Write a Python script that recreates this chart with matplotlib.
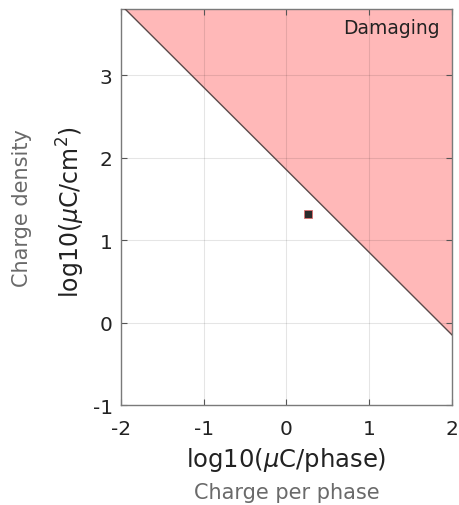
import numpy as np
import matplotlib.pyplot as plt

# Shannon limit: log10(D) = k - log10(Q)
k_shannon = 1.85
x_range = [-2, 2]
y_range = [-1, 3.8]
x_ticks = [-2, -1, 0, 1, 2]
y_ticks = [-1, 0, 1, 2, 3]

# stimulation point
point_q = [0.26]
point_d = [1.31]

fig = plt.figure(figsize=(4.59, 5.06), dpi=100)
ax = fig.add_axes([0.2636, 0.1976, 0.7211, 0.7826])

xs = np.linspace(x_range[0], x_range[1], 200)
ys = k_shannon - xs
ax.fill_between(xs, ys, 10, color="#ff9a9a", alpha=0.7, lw=0, zorder=0.4)
ax.plot(xs, ys, color="#5a4a4a", lw=1.0, zorder=3)

ax.plot(point_q, point_d, marker="s", ms=5.5, color="#2b2b2b",
        mec="#e07070", mew=0.6, ls="none", zorder=4)

ax.text(0.964, 0.978, "Damaging", transform=ax.transAxes, ha="right", va="top",
        fontsize=13.5, color="#222222")

ax.set_xlim(x_range)
ax.set_ylim(y_range)
ax.set_xticks(x_ticks)
ax.set_yticks(y_ticks)
ax.set_xticklabels([str(v) for v in x_ticks])
ax.set_yticklabels([str(v) for v in y_ticks])
ax.set_axisbelow(True)
ax.grid(True, color="black", alpha=0.1, lw=0.8)
ax.tick_params(direction="in", length=4, top=True, right=True,
               labelsize=14.5, color="#555555", labelcolor="#222222")
ax.tick_params(axis="x", pad=10)
ax.tick_params(axis="y", pad=6)
for s in ax.spines.values():
    s.set_color("#7a7a7a")
    s.set_linewidth(1.0)

ax.set_xlabel(r"log10($\mu$C/phase)", fontsize=17.5, color="#222222", va="center")
ax.xaxis.set_label_coords(0.5, -0.136)
ax.set_ylabel(r"log10($\mu$C/cm$^2$)", fontsize=17, color="#222222", va="center")
ax.yaxis.set_label_coords(-0.151, 0.49)

fig.text(0.5 * (0.2636 + 0.9847), 1 - 493 / 506, "Charge per phase",
         ha="center", va="center", fontsize=15, color="#6a6a6a")
fig.text(22 / 459, 1 - 208 / 506, "Charge density", ha="center", va="center",
         rotation=90, fontsize=15, color="#6a6a6a")

fig.savefig("out.png", dpi=100)
